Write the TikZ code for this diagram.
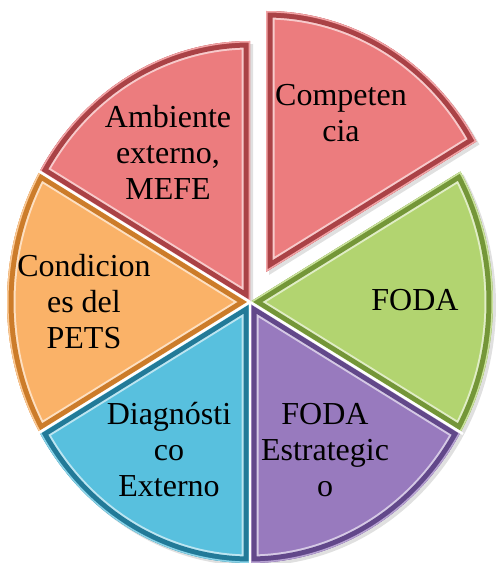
\documentclass[tikz,border=0pt]{standalone}
\usepackage{fontspec}
\setmainfont{Liberation Serif}
\newfontfamily\piefont{Liberation Serif}
\usetikzlibrary{positioning,calc}
\definecolor{PieRed}{RGB}{236,124,126}
\definecolor{PieRedDark}{RGB}{170,66,70}
\definecolor{PieGreen}{RGB}{178,212,112}
\definecolor{PieGreenDark}{RGB}{116,150,56}
\definecolor{PiePurple}{RGB}{152,122,190}
\definecolor{PiePurpleDark}{RGB}{98,72,138}
\definecolor{PieBlue}{RGB}{88,192,222}
\definecolor{PieBlueDark}{RGB}{34,122,152}
\definecolor{PieOrange}{RGB}{250,178,104}
\definecolor{PieOrangeDark}{RGB}{204,124,42}
\newcommand{\slicepath}[2]{(0,0) -- (#1:243pt and 261pt) arc[start angle=#1,end angle=#2,x radius=243pt,y radius=261pt] -- cycle}
\newcommand{\pieslice}[5]{%
  \begin{scope}[shift={#5}]
    \fill[black,opacity=.12] ([shift={(3pt,-3pt)}]0,0) -- ++(#1:243pt and 261pt) arc[start angle=#1,end angle=#2,x radius=243pt,y radius=261pt] -- cycle;
    \begin{scope}
      \clip \slicepath{#1}{#2};
      \fill[#3] \slicepath{#1}{#2};
      \draw[white,opacity=.6,line width=17pt,line join=round] \slicepath{#1}{#2};
      \draw[#4,line width=13pt,line join=round] \slicepath{#1}{#2};
      \draw[#3!70!white,line width=3pt,line join=round] \slicepath{#1}{#2};
    \end{scope}
  \end{scope}}

\begin{document}
\begin{tikzpicture}[
  x=1pt,y=1pt,
  lbl/.style={align=center,font=\piefont\fontsize{32}{36}\selectfont,inner sep=0pt},
  gap/.style={draw=white,line width=2.5pt}
]
\useasboundingbox (0,0) rectangle (502,563);
\coordinate (O) at (250,261);
\pieslice{90}{150}{PieRed}{PieRedDark}{(O)}
\pieslice{150}{210}{PieOrange}{PieOrangeDark}{(O)}
\pieslice{210}{270}{PieBlue}{PieBlueDark}{(O)}
\pieslice{270}{330}{PiePurple}{PiePurpleDark}{(O)}
\pieslice{-30}{30}{PieGreen}{PieGreenDark}{(O)}
\pieslice{30}{90}{PieRed}{PieRedDark}{($(O)+(16,30)$)}
\draw[gap] (O) -- ($(O)+(150:246 and 264)$);
\draw[gap] (O) -- ($(O)+(210:246 and 264)$);
\draw[gap] (O) -- ($(O)+(270:246 and 264)$);
\draw[gap] (O) -- ($(O)+(330:246 and 264)$);
\node[lbl] (comp) at (341,450) {Competen\\cia};
\node[lbl] (amb) at (168,411) {Ambiente\\externo,\\MEFE};
\node[lbl] (cond) at (84,261) {Condicion\\es del\\PETS};
\node[lbl] (foda) at (415,263) {FODA};
\node[lbl] (diag) at (169,113) {Diagnósti\\co\\Externo};
\node[lbl] (fodae) at (325,113) {FODA\\Estrategic\\o};
\end{tikzpicture}
\end{document}
